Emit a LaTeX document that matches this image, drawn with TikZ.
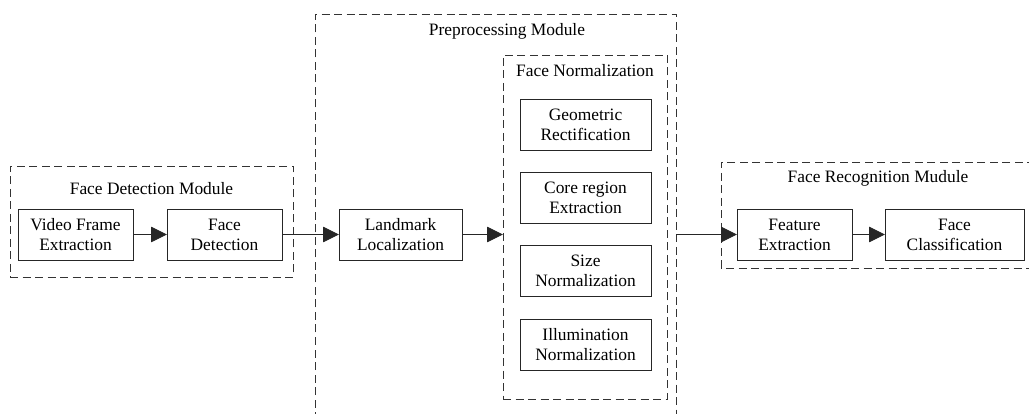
\documentclass[tikz,border=0pt]{standalone}
\usepackage{fontspec}
\setmainfont{Liberation Serif}
\usetikzlibrary{arrows.meta}
\tikzset{
  box/.style={draw=black!85, line width=0.9pt, minimum height=51pt, inner sep=0pt, outer sep=0pt, align=center, font=\fontsize{17.4}{20}\selectfont},
  module/.style={draw=black!80, line width=0.9pt, dash pattern=on 8pt off 4.5pt},
  title/.style={anchor=base, inner sep=0pt, font=\fontsize{17.4}{20}\selectfont},
  flow/.style={draw=black!85, line width=0.9pt, -{Triangle[length=16pt,width=15.5pt]}}
}
\begin{document}
\begin{tikzpicture}[x=1pt,y=-1pt]
\useasboundingbox (0,0) rectangle (1029,414);
\clip (0,0) rectangle (1029,414);
% modules
\node[module, minimum width=283pt, minimum height=111pt, inner sep=0pt, outer sep=0pt] (fdm) at (151.5,221.5) {};
\draw[module] (315,420) -- (315,14) -- (676,14) -- (676,420);
\coordinate (ppR) at (676,234.5);
\node[module, minimum width=164pt, minimum height=344pt, inner sep=0pt, outer sep=0pt] (fn) at (585,227) {};
\draw[module] (1035,162) -- (721,162) -- (721,268) -- (1035,268);
% titles
\node[title] (tfd) at (151.5,195) {Face Detection Module};
\node[title] (tpp) at (507,36) {Preprocessing Module};
\node[title] (tfn) at (585,76.5) {Face Normalization};
\node[title] (tfr) at (878,183) {Face Recognition Mudule};
% boxes
\node[box, minimum width=115pt] (vfe) at (75.5,234.5) {Video Frame\\Extraction};
\node[box, minimum width=115pt] (fd) at (224.5,234.5) {Face\\Detection};
\node[box, minimum width=123pt] (lm) at (400.5,234.5) {Landmark\\Localization};
\node[box, minimum width=131pt] (gr) at (585.5,124.5) {Geometric\\Rectification};
\node[box, minimum width=131pt] (cr) at (585.5,198) {Core region\\Extraction};
\node[box, minimum width=131pt] (sn) at (585.5,271) {Size\\Normalization};
\node[box, minimum width=131pt] (in) at (585.5,344.5) {Illumination\\Normalization};
\node[box, minimum width=115pt] (fe) at (794.5,234.5) {Feature\\Extraction};
\node[box, minimum width=139pt] (fc) at (954.5,234.5) {Face\\Classification};
% connectors
\draw[flow] (vfe) -- (fd);
\draw[flow] (fd) -- (lm);
\draw[flow] (lm.east) -- (lm.east -| fn.west);
\draw[flow] (ppR) -- (fe.west);
\draw[flow] (fe) -- (fc);
\end{tikzpicture}
\end{document}
